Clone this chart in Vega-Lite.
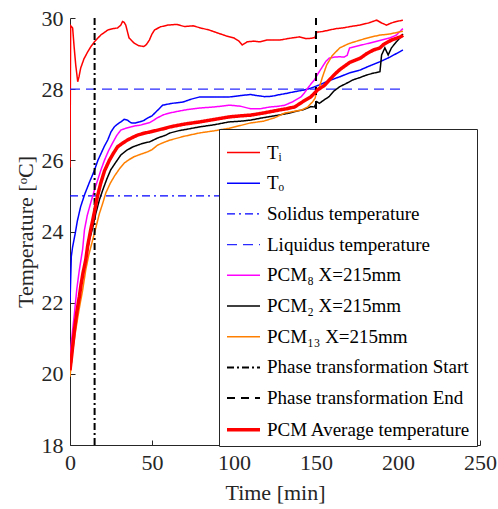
{
"$schema": "https://vega.github.io/schema/vega-lite/v6.json",
"width": 410, "height": 427,
"autosize": {"type": "none"},
"padding": {"left": 70, "top": 18, "right": 18, "bottom": 64},
"background": "white",
"config": {
 "view": {"stroke": null},
 "font": "Liberation Serif",
 "axis": {"labelFont": "Liberation Serif", "titleFont": "Liberation Serif", "labelFontSize": 22, "titleFontSize": 22, "titleFontWeight": "normal", "labelColor": "#262626", "titleColor": "#262626", "domainColor": "#262626", "tickColor": "#262626", "tickSize": -5, "grid": false, "labelFlush": false, "labelOverlap": false, "labelPadding": 12},
 "legend": {"orient": "none", "legendX": 149, "legendY": 111, "symbolType": "stroke", "symbolSize": 1089, "labelFont": "Liberation Serif", "labelFontSize": 19, "labelColor": "#000000", "fillColor": "white", "strokeColor": "#262626", "padding": 6, "rowPadding": 2.7, "labelOffset": 5, "labelLimit": 400}
},
"data": {"values": [
{"series":"Ti","time":0,"temp":25.8},{"series":"Ti","time":0.4,"temp":29.78},{"series":"Ti","time":1.6,"temp":29.72},{"series":"Ti","time":2.5,"temp":29.2},{"series":"Ti","time":3.5,"temp":28.68},{"series":"Ti","time":4.7,"temp":28.21},{"series":"Ti","time":5.5,"temp":28.35},{"series":"Ti","time":6.5,"temp":28.59},{"series":"Ti","time":8.5,"temp":28.85},{"series":"Ti","time":10.8,"temp":29.05},{"series":"Ti","time":12.8,"temp":29.2},{"series":"Ti","time":14.9,"temp":29.33},{"series":"Ti","time":18.7,"temp":29.52},{"series":"Ti","time":23,"temp":29.66},{"series":"Ti","time":26,"temp":29.7},{"series":"Ti","time":29,"temp":29.72},{"series":"Ti","time":31,"temp":29.8},{"series":"Ti","time":32,"temp":29.9},{"series":"Ti","time":33,"temp":29.88},{"series":"Ti","time":34,"temp":29.8},{"series":"Ti","time":36,"temp":29.44},{"series":"Ti","time":39,"temp":29.3},{"series":"Ti","time":42,"temp":29.22},{"series":"Ti","time":45,"temp":29.2},{"series":"Ti","time":46.5,"temp":29.25},{"series":"Ti","time":48.4,"temp":29.38},{"series":"Ti","time":50,"temp":29.55},{"series":"Ti","time":51.5,"temp":29.66},{"series":"Ti","time":55,"temp":29.75},{"series":"Ti","time":59.6,"temp":29.8},{"series":"Ti","time":65,"temp":29.82},{"series":"Ti","time":69.8,"temp":29.76},{"series":"Ti","time":75,"temp":29.78},{"series":"Ti","time":79.7,"temp":29.72},{"series":"Ti","time":85,"temp":29.66},{"series":"Ti","time":90,"temp":29.58},{"series":"Ti","time":95,"temp":29.5},{"series":"Ti","time":100,"temp":29.44},{"series":"Ti","time":103,"temp":29.35},{"series":"Ti","time":105,"temp":29.24},{"series":"Ti","time":108,"temp":29.33},{"series":"Ti","time":112,"temp":29.35},{"series":"Ti","time":115.7,"temp":29.33},{"series":"Ti","time":120,"temp":29.38},{"series":"Ti","time":127.9,"temp":29.38},{"series":"Ti","time":134,"temp":29.43},{"series":"Ti","time":140,"temp":29.47},{"series":"Ti","time":144,"temp":29.42},{"series":"Ti","time":147,"temp":29.43},{"series":"Ti","time":149.3,"temp":29.45},{"series":"Ti","time":150.5,"temp":29.6},{"series":"Ti","time":154,"temp":29.62},{"series":"Ti","time":158,"temp":29.66},{"series":"Ti","time":162,"temp":29.7},{"series":"Ti","time":166.3,"temp":29.72},{"series":"Ti","time":171,"temp":29.76},{"series":"Ti","time":176.6,"temp":29.8},{"series":"Ti","time":182,"temp":29.86},{"series":"Ti","time":187,"temp":29.94},{"series":"Ti","time":190,"temp":29.86},{"series":"Ti","time":193,"temp":29.8},{"series":"Ti","time":196,"temp":29.86},{"series":"Ti","time":199,"temp":29.9},{"series":"Ti","time":203,"temp":29.94},
{"series":"To","time":0,"temp":22.0},{"series":"To","time":0.8,"temp":23.3},{"series":"To","time":1.6,"temp":23.57},{"series":"To","time":3,"temp":23.9},{"series":"To","time":4.5,"temp":24.3},{"series":"To","time":6.5,"temp":24.7},{"series":"To","time":9,"temp":25.05},{"series":"To","time":12,"temp":25.4},{"series":"To","time":15,"temp":25.73},{"series":"To","time":17,"temp":26.0},{"series":"To","time":19,"temp":26.2},{"series":"To","time":21,"temp":26.4},{"series":"To","time":23,"temp":26.57},{"series":"To","time":25,"temp":26.8},{"series":"To","time":27,"temp":26.94},{"series":"To","time":29,"temp":27.02},{"series":"To","time":31,"temp":27.08},{"series":"To","time":33,"temp":27.15},{"series":"To","time":35,"temp":27.13},{"series":"To","time":37,"temp":27.06},{"series":"To","time":38,"temp":27.05},{"series":"To","time":40,"temp":27.05},{"series":"To","time":42.5,"temp":27.08},{"series":"To","time":45,"temp":27.12},{"series":"To","time":47.4,"temp":27.19},{"series":"To","time":50,"temp":27.25},{"series":"To","time":53.5,"temp":27.41},{"series":"To","time":56.5,"temp":27.55},{"series":"To","time":62,"temp":27.6},{"series":"To","time":69,"temp":27.64},{"series":"To","time":74,"temp":27.72},{"series":"To","time":79,"temp":27.78},{"series":"To","time":88,"temp":27.78},{"series":"To","time":97,"temp":27.78},{"series":"To","time":104,"temp":27.82},{"series":"To","time":110,"temp":27.85},{"series":"To","time":114,"temp":27.82},{"series":"To","time":118.7,"temp":27.79},{"series":"To","time":123,"temp":27.8},{"series":"To","time":127,"temp":27.84},{"series":"To","time":132,"temp":27.88},{"series":"To","time":137,"temp":27.93},{"series":"To","time":142,"temp":27.97},{"series":"To","time":147,"temp":28.03},{"series":"To","time":152,"temp":28.12},{"series":"To","time":158,"temp":28.24},{"series":"To","time":164.6,"temp":28.35},{"series":"To","time":170,"temp":28.45},{"series":"To","time":177,"temp":28.54},{"series":"To","time":183,"temp":28.66},{"series":"To","time":189,"temp":28.77},{"series":"To","time":195,"temp":28.9},{"series":"To","time":201,"temp":29.05},{"series":"To","time":203,"temp":29.1},
{"series":"Sol","time":0,"temp":25},{"series":"Sol","time":203,"temp":25},
{"series":"Liq","time":0,"temp":28},{"series":"Liq","time":203,"temp":28},
{"series":"P8","time":0,"temp":20.48},{"series":"P8","time":1.3,"temp":21.1},{"series":"P8","time":2.7,"temp":21.7},{"series":"P8","time":4.2,"temp":22.4},{"series":"P8","time":5.7,"temp":22.92},{"series":"P8","time":7.7,"temp":23.5},{"series":"P8","time":8.8,"temp":24.04},{"series":"P8","time":10.5,"temp":24.45},{"series":"P8","time":12.6,"temp":24.8},{"series":"P8","time":14.8,"temp":25.15},{"series":"P8","time":16.9,"temp":25.45},{"series":"P8","time":19,"temp":25.75},{"series":"P8","time":21,"temp":26.0},{"series":"P8","time":23.5,"temp":26.27},{"series":"P8","time":26,"temp":26.49},{"series":"P8","time":28.5,"temp":26.7},{"series":"P8","time":31,"temp":26.85},{"series":"P8","time":34,"temp":26.9},{"series":"P8","time":37,"temp":26.94},{"series":"P8","time":40,"temp":26.97},{"series":"P8","time":43,"temp":26.99},{"series":"P8","time":46,"temp":27.03},{"series":"P8","time":48.6,"temp":27.06},{"series":"P8","time":53.5,"temp":27.2},{"series":"P8","time":57,"temp":27.28},{"series":"P8","time":60.8,"temp":27.33},{"series":"P8","time":66,"temp":27.38},{"series":"P8","time":72,"temp":27.43},{"series":"P8","time":79,"temp":27.47},{"series":"P8","time":88,"temp":27.5},{"series":"P8","time":97.4,"temp":27.55},{"series":"P8","time":104,"temp":27.52},{"series":"P8","time":110,"temp":27.45},{"series":"P8","time":116,"temp":27.45},{"series":"P8","time":122,"temp":27.5},{"series":"P8","time":127,"temp":27.52},{"series":"P8","time":131,"temp":27.55},{"series":"P8","time":136,"temp":27.65},{"series":"P8","time":141,"temp":27.79},{"series":"P8","time":143,"temp":27.9},{"series":"P8","time":145,"temp":28.03},{"series":"P8","time":147,"temp":28.15},{"series":"P8","time":149,"temp":28.26},{"series":"P8","time":151,"temp":28.42},{"series":"P8","time":153.5,"temp":28.6},{"series":"P8","time":156,"temp":28.78},{"series":"P8","time":158,"temp":28.87},{"series":"P8","time":161,"temp":28.9},{"series":"P8","time":164.5,"temp":28.91},{"series":"P8","time":167,"temp":28.9},{"series":"P8","time":169,"temp":28.95},{"series":"P8","time":170.5,"temp":29.16},{"series":"P8","time":176,"temp":29.22},{"series":"P8","time":183,"temp":29.3},{"series":"P8","time":189,"temp":29.37},{"series":"P8","time":195,"temp":29.44},{"series":"P8","time":199,"temp":29.52},{"series":"P8","time":202,"temp":29.66},{"series":"P8","time":203,"temp":29.7},
{"series":"P2","time":0,"temp":20.1},{"series":"P2","time":0.6,"temp":20.2},{"series":"P2","time":2,"temp":20.9},{"series":"P2","time":3.5,"temp":21.42},{"series":"P2","time":5,"temp":21.95},{"series":"P2","time":6.5,"temp":22.44},{"series":"P2","time":8,"temp":22.8},{"series":"P2","time":9.6,"temp":23.2},{"series":"P2","time":11.8,"temp":23.76},{"series":"P2","time":13.8,"temp":24.1},{"series":"P2","time":15.7,"temp":24.5},{"series":"P2","time":18,"temp":24.9},{"series":"P2","time":20,"temp":25.17},{"series":"P2","time":22.5,"temp":25.48},{"series":"P2","time":24.8,"temp":25.73},{"series":"P2","time":28,"temp":25.95},{"series":"P2","time":31,"temp":26.15},{"series":"P2","time":34.5,"temp":26.28},{"series":"P2","time":38.4,"temp":26.38},{"series":"P2","time":42,"temp":26.44},{"series":"P2","time":45.4,"temp":26.49},{"series":"P2","time":48.6,"temp":26.52},{"series":"P2","time":53.5,"temp":26.63},{"series":"P2","time":58,"temp":26.7},{"series":"P2","time":61,"temp":26.77},{"series":"P2","time":67,"temp":26.84},{"series":"P2","time":72,"temp":26.88},{"series":"P2","time":79,"temp":26.94},{"series":"P2","time":88,"temp":27.0},{"series":"P2","time":97,"temp":27.08},{"series":"P2","time":104,"temp":27.1},{"series":"P2","time":110,"temp":27.13},{"series":"P2","time":118,"temp":27.2},{"series":"P2","time":127,"temp":27.27},{"series":"P2","time":133,"temp":27.32},{"series":"P2","time":137,"temp":27.37},{"series":"P2","time":142,"temp":27.42},{"series":"P2","time":147,"temp":27.51},{"series":"P2","time":149,"temp":27.5},{"series":"P2","time":150.5,"temp":27.65},{"series":"P2","time":152,"temp":27.6},{"series":"P2","time":155,"temp":27.7},{"series":"P2","time":158,"temp":27.79},{"series":"P2","time":161,"temp":27.95},{"series":"P2","time":164.5,"temp":28.07},{"series":"P2","time":168,"temp":28.15},{"series":"P2","time":172.5,"temp":28.26},{"series":"P2","time":177,"temp":28.33},{"series":"P2","time":181,"temp":28.4},{"series":"P2","time":185,"temp":28.45},{"series":"P2","time":189,"temp":28.49},{"series":"P2","time":190,"temp":28.96},{"series":"P2","time":192,"temp":29.16},{"series":"P2","time":194,"temp":28.96},{"series":"P2","time":196,"temp":29.16},{"series":"P2","time":199,"temp":29.33},{"series":"P2","time":202,"temp":29.48},{"series":"P2","time":203,"temp":29.55},
{"series":"P13","time":0,"temp":19.92},{"series":"P13","time":1.5,"temp":20.6},{"series":"P13","time":3.5,"temp":21.23},{"series":"P13","time":5.5,"temp":21.8},{"series":"P13","time":7.7,"temp":22.35},{"series":"P13","time":9.6,"temp":22.92},{"series":"P13","time":11.5,"temp":23.35},{"series":"P13","time":13.8,"temp":23.76},{"series":"P13","time":16,"temp":24.15},{"series":"P13","time":17.9,"temp":24.5},{"series":"P13","time":20,"temp":24.8},{"series":"P13","time":21.8,"temp":25.08},{"series":"P13","time":24.5,"temp":25.35},{"series":"P13","time":27,"temp":25.55},{"series":"P13","time":30,"temp":25.75},{"series":"P13","time":33,"temp":25.92},{"series":"P13","time":36,"temp":26.02},{"series":"P13","time":39,"temp":26.1},{"series":"P13","time":43,"temp":26.17},{"series":"P13","time":47.4,"temp":26.24},{"series":"P13","time":50,"temp":26.3},{"series":"P13","time":53.5,"temp":26.43},{"series":"P13","time":57,"temp":26.5},{"series":"P13","time":61,"temp":26.57},{"series":"P13","time":70,"temp":26.68},{"series":"P13","time":79,"temp":26.77},{"series":"P13","time":88,"temp":26.83},{"series":"P13","time":97,"temp":26.9},{"series":"P13","time":104,"temp":26.98},{"series":"P13","time":110,"temp":27.05},{"series":"P13","time":118,"temp":27.1},{"series":"P13","time":125,"temp":27.2},{"series":"P13","time":131,"temp":27.33},{"series":"P13","time":136,"temp":27.37},{"series":"P13","time":141,"temp":27.41},{"series":"P13","time":145,"temp":27.5},{"series":"P13","time":148,"temp":27.65},{"series":"P13","time":149.5,"temp":27.75},{"series":"P13","time":150.5,"temp":27.98},{"series":"P13","time":152,"temp":28.05},{"series":"P13","time":154,"temp":28.35},{"series":"P13","time":156.5,"temp":28.68},{"series":"P13","time":160,"temp":28.95},{"series":"P13","time":164.5,"temp":29.16},{"series":"P13","time":170,"temp":29.28},{"series":"P13","time":177,"temp":29.38},{"series":"P13","time":183,"temp":29.46},{"series":"P13","time":189,"temp":29.52},{"series":"P13","time":195,"temp":29.55},{"series":"P13","time":202,"temp":29.62},{"series":"P13","time":203,"temp":29.63},
{"series":"PS","time":15,"temp":18},{"series":"PS","time":15,"temp":30},
{"series":"PE","time":150,"temp":18},{"series":"PE","time":150,"temp":30},
{"series":"Avg","time":0,"temp":20.1},{"series":"Avg","time":1,"temp":20.5},{"series":"Avg","time":2.7,"temp":21.23},{"series":"Avg","time":4.2,"temp":21.75},{"series":"Avg","time":5.7,"temp":22.17},{"series":"Avg","time":6.7,"temp":22.5},{"series":"Avg","time":8,"temp":22.85},{"series":"Avg","time":9.6,"temp":23.2},{"series":"Avg","time":10.8,"temp":23.6},{"series":"Avg","time":12.6,"temp":24.04},{"series":"Avg","time":14.9,"temp":24.55},{"series":"Avg","time":16.8,"temp":25.0},{"series":"Avg","time":18.7,"temp":25.35},{"series":"Avg","time":21,"temp":25.7},{"series":"Avg","time":24,"temp":26.0},{"series":"Avg","time":26.5,"temp":26.2},{"series":"Avg","time":29,"temp":26.38},{"series":"Avg","time":32,"temp":26.48},{"series":"Avg","time":35,"temp":26.57},{"series":"Avg","time":38,"temp":26.64},{"series":"Avg","time":41.3,"temp":26.71},{"series":"Avg","time":45,"temp":26.76},{"series":"Avg","time":49,"temp":26.8},{"series":"Avg","time":53.5,"temp":26.85},{"series":"Avg","time":58,"temp":26.9},{"series":"Avg","time":61,"temp":26.94},{"series":"Avg","time":70,"temp":27.02},{"series":"Avg","time":79,"temp":27.08},{"series":"Avg","time":88,"temp":27.15},{"series":"Avg","time":97,"temp":27.22},{"series":"Avg","time":104,"temp":27.25},{"series":"Avg","time":110,"temp":27.27},{"series":"Avg","time":118,"temp":27.33},{"series":"Avg","time":127,"temp":27.41},{"series":"Avg","time":132,"temp":27.45},{"series":"Avg","time":137,"temp":27.5},{"series":"Avg","time":142,"temp":27.65},{"series":"Avg","time":147,"temp":27.79},{"series":"Avg","time":151,"temp":27.98},{"series":"Avg","time":155,"temp":28.1},{"series":"Avg","time":158,"temp":28.25},{"series":"Avg","time":161,"temp":28.4},{"series":"Avg","time":164.5,"temp":28.55},{"series":"Avg","time":170.5,"temp":28.75},{"series":"Avg","time":177,"temp":28.87},{"series":"Avg","time":181,"temp":29.0},{"series":"Avg","time":185,"temp":29.1},{"series":"Avg","time":189,"temp":29.16},{"series":"Avg","time":191,"temp":29.25},{"series":"Avg","time":196,"temp":29.38},{"series":"Avg","time":202,"temp":29.48},{"series":"Avg","time":203,"temp":29.52}
]},
"mark": {"type": "line", "clip": true},
"encoding": {
 "x": {"field": "time", "type": "quantitative", "scale": {"domain": [0, 250], "nice": false}, "axis": {"values": [0, 50, 100, 150, 200, 250], "title": "Time [min]", "titlePadding": 9, "labelFont": "Liberation Serif", "titleFont": "Liberation Serif", "titleFontWeight": "normal"}},
 "y": {"field": "temp", "type": "quantitative", "scale": {"domain": [18, 30], "nice": false, "zero": false}, "axis": {"values": [18, 20, 22, 24, 26, 28, 30], "title": "Temperature [ᵒC]", "titlePadding": 4, "labelFont": "Liberation Serif", "titleFont": "Liberation Serif", "titleFontWeight": "normal"}},
 "color": {"field": "series", "type": "nominal",
  "scale": {"domain": ["Ti","To","Sol","Liq","P8","P2","P13","PS","PE","Avg"], "range": ["#ff0000","#0000ff","#0000ff","#2a2aff","#ff00ff","#000000","#ff8000","#000000","#000000","#ff0000"]},
  "legend": {"title": null,
   "labelExpr": "datum.value == 'Ti' ? 'Tᵢ' : datum.value == 'To' ? 'Tₒ' : datum.value == 'Sol' ? 'Solidus temperature' : datum.value == 'Liq' ? 'Liquidus temperature' : datum.value == 'P8' ? 'PCM₈ X=215mm' : datum.value == 'P2' ? 'PCM₂ X=215mm' : datum.value == 'P13' ? 'PCM₁₃ X=215mm' : datum.value == 'PS' ? 'Phase transformation Start' : datum.value == 'PE' ? 'Phase transformation End' : 'PCM Average temperature'"}},
 "strokeDash": {"field": "series", "type": "nominal",
  "scale": {"domain": ["Ti","To","Sol","Liq","P8","P2","P13","PS","PE","Avg"], "range": [[1,0],[1,0],[8,4,2,4],[10,6],[1,0],[1,0],[1,0],[7,3,2,3],[8,6],[1,0]]},
  "legend": {"title": null,
   "labelExpr": "datum.value == 'Ti' ? 'Tᵢ' : datum.value == 'To' ? 'Tₒ' : datum.value == 'Sol' ? 'Solidus temperature' : datum.value == 'Liq' ? 'Liquidus temperature' : datum.value == 'P8' ? 'PCM₈ X=215mm' : datum.value == 'P2' ? 'PCM₂ X=215mm' : datum.value == 'P13' ? 'PCM₁₃ X=215mm' : datum.value == 'PS' ? 'Phase transformation Start' : datum.value == 'PE' ? 'Phase transformation End' : 'PCM Average temperature'"}},
 "strokeWidth": {"field": "series", "type": "ordinal",
  "scale": {"type": "ordinal", "domain": ["Ti","To","Sol","Liq","P8","P2","P13","PS","PE","Avg"], "range": [1.5,1.5,1.2,1.2,1.5,1.5,1.5,2,2,3.5]},
  "legend": {"title": null,
   "labelExpr": "datum.value == 'Ti' ? 'Tᵢ' : datum.value == 'To' ? 'Tₒ' : datum.value == 'Sol' ? 'Solidus temperature' : datum.value == 'Liq' ? 'Liquidus temperature' : datum.value == 'P8' ? 'PCM₈ X=215mm' : datum.value == 'P2' ? 'PCM₂ X=215mm' : datum.value == 'P13' ? 'PCM₁₃ X=215mm' : datum.value == 'PS' ? 'Phase transformation Start' : datum.value == 'PE' ? 'Phase transformation End' : 'PCM Average temperature'"}}
}
}
